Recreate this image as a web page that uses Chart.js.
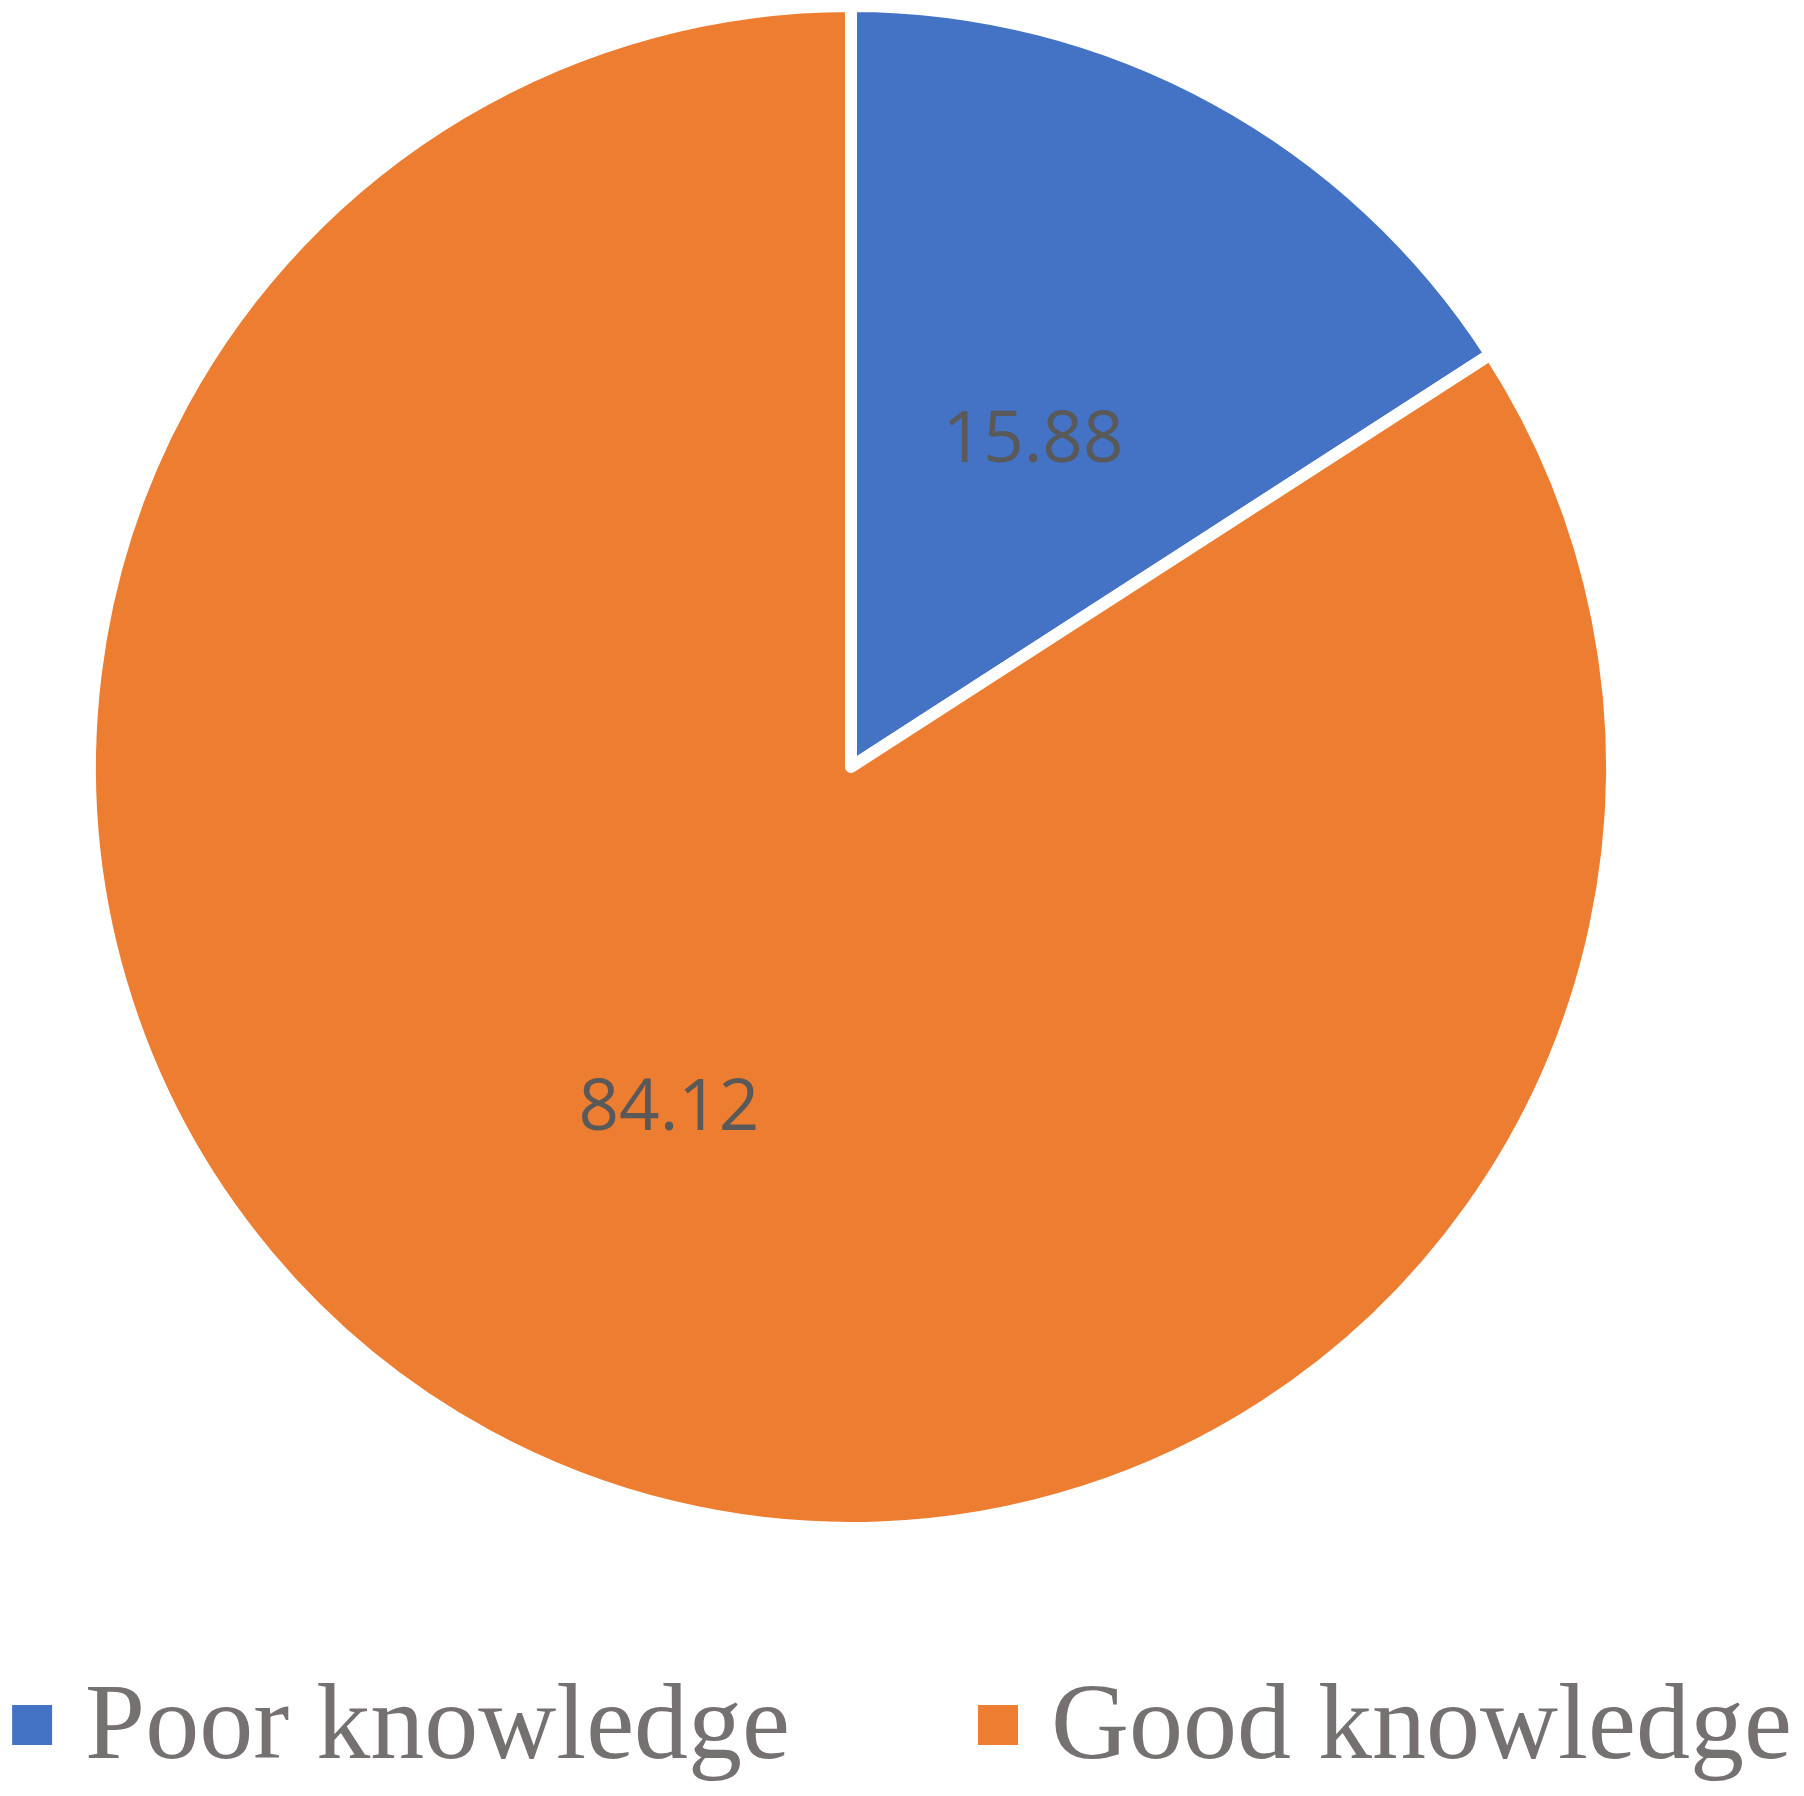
<!DOCTYPE html>
<html>
<head>
<meta charset="utf-8">
<script src="https://cdn.jsdelivr.net/npm/chart.js@4/dist/chart.umd.min.js"></script>
<style>
  html, body { margin: 0; padding: 0; background: #fff; }
  #wrap { width: 1804px; height: 1796px; }
</style>
</head>
<body>
<div id="wrap"><canvas id="pie"></canvas></div>
<script>
// Chart data
const labels = ["Poor knowledge", "Good knowledge"];
const values = [15.88, 84.12];
const colors = ["#4472C4", "#ED7D31"];

// Write the value in the middle of each slice
const valueLabels = {
    id: "valueLabels",
    afterDatasetsDraw(chart) {
        const ctx = chart.ctx;
        const meta = chart.getDatasetMeta(0);
        ctx.save();
        ctx.font = "71px 'Open Sans'";
        ctx.fillStyle = "#595959";
        ctx.textAlign = "center";
        ctx.textBaseline = "alphabetic";
        meta.data.forEach((arc, i) => {
            const pos = arc.tooltipPosition();
            ctx.fillText(String(values[i]), pos.x, pos.y + 29);
        });
        ctx.restore();
    }
};

// Legend row under the pie (Excel style: small square, wide gaps)
const bottomLegend = {
    id: "bottomLegend",
    afterDraw(chart) {
        const ctx = chart.ctx;
        const box = 40, textGap = 33, itemGap = 188;
        const ds = chart.data.datasets[0];
        ctx.save();
        ctx.font = "108px 'Liberation Serif'";
        ctx.textBaseline = "alphabetic";
        ctx.textAlign = "left";
        const widths = chart.data.labels.map(l => ctx.measureText(l).width);
        let total = 0;
        widths.forEach((w, i) => {
            total += box + textGap + w;
            if (i > 0) total += itemGap;
        });
        let x = (chart.width - total) / 2;
        const baseline = 1758;
        chart.data.labels.forEach((l, i) => {
            ctx.fillStyle = ds.backgroundColor[i];
            ctx.fillRect(x, baseline - 53, box, box);
            ctx.fillStyle = "#767171";
            ctx.fillText(l, x + box + textGap, baseline);
            x += box + textGap + widths[i] + itemGap;
        });
        ctx.restore();
    }
};

const ctx = document.getElementById("pie").getContext("2d");
new Chart(ctx, {
    type: "pie",
    data: {
        labels: labels,
        datasets: [{
            data: values,
            backgroundColor: colors,
            borderColor: "#ffffff",
            borderWidth: 12,
            borderJoinStyle: "round"
        }]
    },
    options: {
        responsive: true,
        maintainAspectRatio: false,
        animation: false,
        layout: { padding: { top: 0, right: 102, bottom: 262, left: 0 } },
        plugins: {
            tooltip: { enabled: false },
            legend: { display: false }
        }
    },
    plugins: [valueLabels, bottomLegend]
});
</script>
</body>
</html>
